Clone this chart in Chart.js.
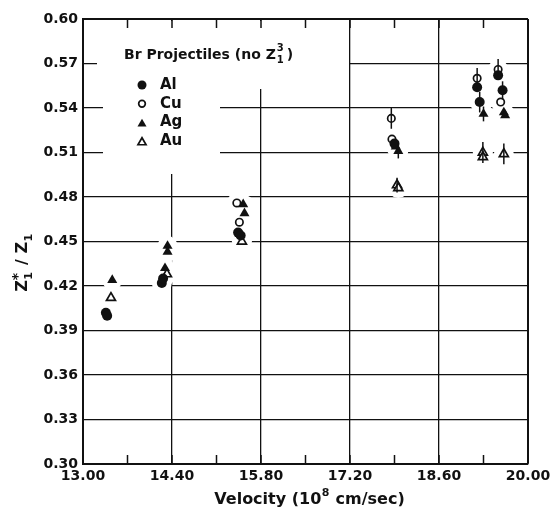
<!DOCTYPE html>
<html><head><meta charset="utf-8">
<script src="https://cdn.jsdelivr.net/npm/chart.js@4.4.1/dist/chart.umd.min.js"></script>
<style>html,body{margin:0;padding:0;background:#fff}</style>
</head><body>
<canvas id="c" width="557" height="515"></canvas>
<script>
// ---- data ----
const xTickValues = [13.0, 13.7, 14.4, 15.1, 15.8, 16.5, 17.2, 17.9, 18.6, 19.3, 20.0];
const yTickValues = [0.30, 0.33, 0.36, 0.39, 0.42, 0.45, 0.48, 0.51, 0.54, 0.57, 0.60];

const alX   = [13.36, 13.38, 14.24, 14.26, 15.44, 15.48, 17.90, 19.20, 19.24, 19.53, 19.60];
const alY   = [0.402, 0.400, 0.422, 0.425, 0.456, 0.454, 0.516, 0.554, 0.544, 0.562, 0.552];
const alErr = [0, 0, 0, 0, 0, 0, 0, 0, 0.007, 0, 0.006];

const cuX   = [15.42, 15.46, 17.85, 17.86, 19.20, 19.53, 19.57];
const cuY   = [0.476, 0.463, 0.533, 0.519, 0.560, 0.566, 0.544];
const cuErr = [0, 0, 0.007, 0, 0.007, 0.007, 0];

const agX   = [13.46, 14.33, 14.33, 14.29, 15.52, 15.54, 17.92, 17.96, 19.30, 19.62, 19.64];
const agY   = [0.424, 0.447, 0.443, 0.432, 0.475, 0.469, 0.514, 0.511, 0.536, 0.537, 0.535];
const agErr = [0, 0, 0, 0, 0, 0, 0, 0.005, 0.005, 0, 0];

const auX   = [13.44, 14.32, 15.50, 17.94, 17.96, 19.29, 19.29, 19.62];
const auY   = [0.412, 0.428, 0.450, 0.488, 0.486, 0.510, 0.507, 0.509];
const auErr = [0, 0, 0, 0.005, 0, 0.007, 0, 0.007];

const seriesNames = ['Al', 'Cu', 'Ag', 'Au'];
const legendTitle = 'Br Projectiles (no Z';
const xTitle = ['Velocity (10', '8', ' cm/sec)'];

// ---- build datasets ----
const pts = (xs, ys) => xs.map((x, i) => ({x: x, y: ys[i]}));
const INK = '#111';
const styles = [
  {pointStyle: 'circle',   radius: 5.0, fill: INK,   bw: 0},
  {pointStyle: 'circle',   radius: 3.7, fill: '#fff', bw: 1.7},
  {pointStyle: 'triangle', radius: 5.8, fill: INK,   bw: 0},
  {pointStyle: 'triangle', radius: 5.2, fill: '#fff', bw: 1.7}
];
const series = [[alX, alY, alErr], [cuX, cuY, cuErr], [agX, agY, agErr], [auX, auY, auErr]];
const datasets = series.map((s, k) => ({
  label: seriesNames[k],
  data: pts(s[0], s[1]),
  errs: s[2],
  pointStyle: styles[k].pointStyle,
  pointRadius: styles[k].radius,
  pointBackgroundColor: styles[k].fill,
  pointBorderColor: INK,
  pointBorderWidth: styles[k].bw,
  showLine: false,
  order: k + 1
}));
// white halo behind points (the grid is broken around the data in the reference)
datasets.push({
  label: 'halo',
  data: [].concat(...series.map(s => pts(s[0], s[1]))),
  pointRadius: 10,
  pointBackgroundColor: '#fff',
  pointBorderWidth: 0,
  showLine: false,
  order: 20
});

function marker(ctx, st, x, y) {
  ctx.save();
  ctx.fillStyle = st.fill; ctx.strokeStyle = INK; ctx.lineWidth = st.bw;
  ctx.beginPath();
  const r = st.radius;
  if (st.pointStyle === 'circle') {
    ctx.arc(x, y, r, 0, Math.PI * 2);
  } else {
    let a = 0;
    ctx.moveTo(x + Math.sin(a) * r, y - Math.cos(a) * r);
    a += 2 * Math.PI / 3;
    ctx.lineTo(x + Math.sin(a) * r, y - Math.cos(a) * r);
    a += 2 * Math.PI / 3;
    ctx.lineTo(x + Math.sin(a) * r, y - Math.cos(a) * r);
    ctx.closePath();
  }
  ctx.fill();
  if (st.bw > 0) ctx.stroke();
  ctx.restore();
}

const FONT = '"DejaVu Sans", "Liberation Sans", sans-serif';

const decor = {
  id: 'decor',
  beforeDatasetsDraw(chart) {
    const ctx = chart.ctx, a = chart.chartArea;
    ctx.save();
    // white space behind the legend block
    ctx.fillStyle = '#fff';
    ctx.fillRect(a.left + 14, a.top + 2, 252, 68);
    ctx.fillRect(a.left + 20, a.top + 68, 117, 87);
    // inward tick marks on bottom and top edges
    const xs = chart.scales.x;
    ctx.strokeStyle = INK; ctx.lineWidth = 1.5;
    xTickValues.forEach(v => {
      const px = xs.getPixelForValue(v);
      ctx.beginPath();
      ctx.moveTo(px, a.bottom); ctx.lineTo(px, a.bottom - 9);
      ctx.moveTo(px, a.top); ctx.lineTo(px, a.top + 9);
      ctx.stroke();
    });
    ctx.restore();
  },
  afterDatasetsDraw(chart) {
    const ctx = chart.ctx, a = chart.chartArea;
    const xs = chart.scales.x, ys = chart.scales.y;
    ctx.save();
    // error bars
    ctx.strokeStyle = INK; ctx.lineWidth = 1.5;
    chart.data.datasets.forEach(ds => {
      if (!ds.errs) return;
      ds.data.forEach((p, i) => {
        const e = ds.errs[i];
        if (!e) return;
        const px = xs.getPixelForValue(p.x);
        ctx.beginPath();
        ctx.moveTo(px, ys.getPixelForValue(p.y - e));
        ctx.lineTo(px, ys.getPixelForValue(p.y + e));
        ctx.stroke();
      });
    });
    // legend
    ctx.fillStyle = INK;
    ctx.textBaseline = 'alphabetic';
    ctx.textAlign = 'left';
    ctx.font = 'bold 14px ' + FONT;
    const tx = a.left + 41, ty = a.top + 40;
    ctx.fillText(legendTitle, tx, ty);
    let w = ctx.measureText(legendTitle).width;
    ctx.font = 'bold 10px ' + FONT;
    ctx.fillText('3', tx + w + 1, ty - 8);
    ctx.fillText('1', tx + w + 1, ty + 4);
    ctx.font = 'bold 14px ' + FONT;
    ctx.fillText(')', tx + w + 11, ty);
    seriesNames.forEach((n, k) => {
      const yy = a.top + 66 + k * 18.7;
      const st = styles[k];
      const my = st.pointStyle === 'triangle' ? yy + st.radius * 0.25 : yy;
      marker(ctx, Object.assign({}, st, {radius: st.radius * 0.9}), a.left + 59, my);
      ctx.font = 'bold 15px ' + FONT;
      ctx.textBaseline = 'middle';
      ctx.fillText(n, a.left + 77, yy);
    });
    ctx.restore();
  },
  afterDraw(chart) {
    const ctx = chart.ctx, a = chart.chartArea;
    ctx.save();
    ctx.fillStyle = INK;
    ctx.textBaseline = 'alphabetic';
    // x title
    const big = 'bold 16px ' + FONT, small = 'bold 11px ' + FONT;
    ctx.font = big;
    const w1 = ctx.measureText(xTitle[0]).width;
    ctx.font = small;
    const w2 = ctx.measureText(xTitle[1]).width;
    ctx.font = big;
    const w3 = ctx.measureText(xTitle[2]).width;
    const total = w1 + w2 + 1 + w3;
    let x0 = (a.left + a.right) / 2 + 4 - total / 2;
    const by = 504;
    ctx.fillText(xTitle[0], x0, by);
    ctx.font = small;
    ctx.fillText(xTitle[1], x0 + w1 + 0.5, by - 8);
    ctx.font = big;
    ctx.fillText(xTitle[2], x0 + w1 + w2 + 1, by);
    // y title (rotated)
    ctx.translate(27, 263);
    ctx.rotate(-Math.PI / 2);
    ctx.font = big;
    const wz = ctx.measureText('Z').width;
    const ws = ctx.measureText(' / Z').width;
    ctx.font = small;
    const w1s = ctx.measureText('1').width;
    const tot = wz + w1s + 2 + ws + w1s;
    let cx = -tot / 2;
    ctx.font = big;
    ctx.fillText('Z', cx, 0);
    ctx.font = 'bold 14px ' + FONT;
    ctx.fillText('*', cx + wz, -5);
    ctx.font = small;
    ctx.fillText('1', cx + wz + 0.5, 5);
    cx += wz + w1s + 2;
    ctx.font = big;
    ctx.fillText(' / Z', cx, 0);
    cx += ws;
    ctx.font = small;
    ctx.fillText('1', cx + 0.5, 5);
    ctx.restore();
  }
};

new Chart(document.getElementById('c'), {
  type: 'scatter',
  data: {datasets: datasets},
  options: {
    responsive: false,
    animation: false,
    devicePixelRatio: 1,
    layout: {padding: {top: 19, right: 29, left: 0, bottom: 0}},
    plugins: {legend: {display: false}, tooltip: {enabled: false}},
    scales: {
      x: {
        type: 'linear', min: 13, max: 20,
        afterBuildTicks: s => { s.ticks = xTickValues.map(v => ({value: v})); },
        afterFit: s => { s.height = 51; },
        ticks: {
          autoSkip: false, maxRotation: 0, padding: 4, color: INK,
          font: {size: 14, family: FONT, weight: 'bold'},
          callback: (v, i) => (i % 2 === 0 ? Number(v).toFixed(2) : '')
        },
        grid: {
          drawTicks: false,
          color: c => (c.index % 2 === 0 ? INK : 'rgba(0,0,0,0)'),
          lineWidth: c => (c.index === xTickValues.length - 1 ? 2 : 1.3)
        },
        border: {color: INK, width: 2}
      },
      y: {
        type: 'linear', min: 0.30, max: 0.60,
        afterBuildTicks: s => { s.ticks = yTickValues.map(v => ({value: v})); },
        afterFit: s => { s.width = 83; },
        ticks: {
          padding: 5, color: INK,
          font: {size: 14, family: FONT, weight: 'bold'},
          callback: v => Number(v).toFixed(2)
        },
        grid: {
          drawTicks: false,
          color: INK,
          lineWidth: c => (c.index === yTickValues.length - 1 ? 2 : 1.3)
        },
        border: {color: INK, width: 2}
      }
    }
  },
  plugins: [decor]
});
</script>
</body></html>
